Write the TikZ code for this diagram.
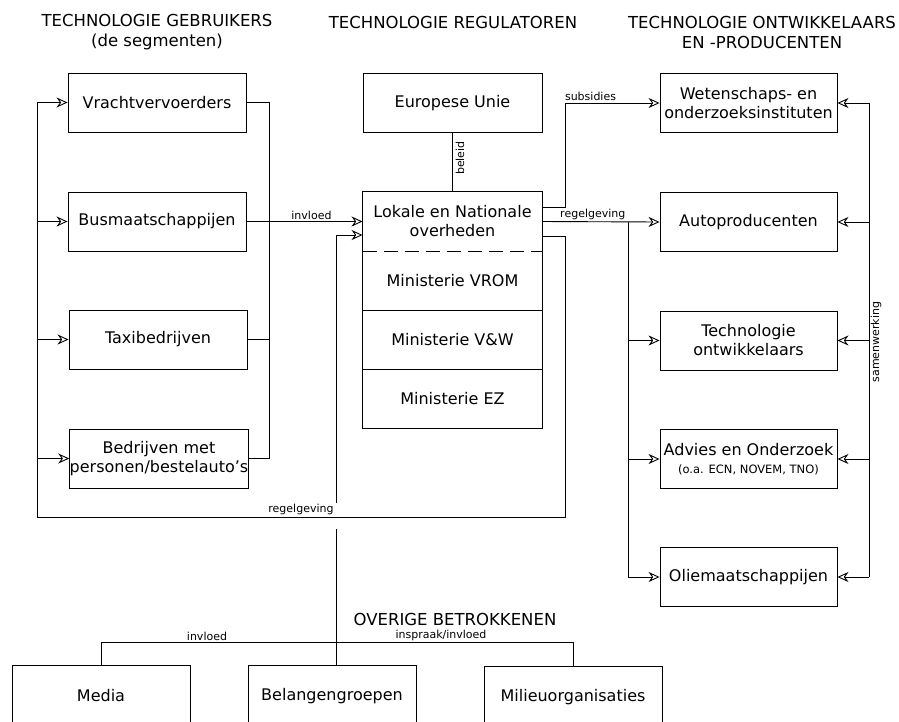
\documentclass[tikz,border=0pt]{standalone}
\usepackage{fontspec}
\setmainfont{DejaVu Sans}
\usetikzlibrary{arrows.meta}
\begin{document}
\begin{tikzpicture}[x=1pt,y=-1pt,
  box/.style={draw,line width=0.9pt,minimum width=178pt,minimum height=59pt,inner sep=0pt,align=center,font=\fontsize{16}{19}\selectfont},
  cell/.style={box,draw=none,minimum width=179pt},
  conn/.style={line width=0.9pt},
  arr/.style={conn,-{Stealth[open,length=11pt,width=10pt,inset=3.5pt,line width=0.9pt]}},
  lbl/.style={font=\fontsize{11}{12}\selectfont,inner sep=1.5pt},
  head/.style={font=\fontsize{16.5}{20}\selectfont,align=center,inner sep=0pt}]
\clip (0,0) rectangle (899,721);
% headers
\node[head] (h1) at (157,32) {TECHNOLOGIE GEBRUIKERS\\(de segmenten)};
\node[head] (h2) at (453,22) {TECHNOLOGIE REGULATOREN};
\node[head] (h3) at (762,32) {TECHNOLOGIE ONTWIKKELAARS\\EN -PRODUCENTEN};
\node[head] (h4) at (455,619) {OVERIGE BETROKKENEN};
% left column
\node[box] (vr) at (157,102.5) {Vrachtvervoerders};
\node[box] (bus) at (157,221.5) {Busmaatschappijen};
\node[box] (taxi) at (158,339.5) {Taxibedrijven};
\node[box] (bed) at (159,458.5) {Bedrijven met\\personen/bestelauto's};
% centre column
\node[box,minimum width=179pt] (eu) at (452.5,103) {Europese Unie};
\node[cell] (lok) at (452.5,221.5) {Lokale en Nationale\\overheden};
\node[cell] (vrom) at (452.5,280.5) {Ministerie VROM};
\node[cell] (vw) at (452.5,339.5) {Ministerie V\&W};
\node[cell] (ez) at (452.5,398.5) {Ministerie EZ};
\draw[conn] (lok.north west) rectangle (ez.south east);
\draw[conn] (vrom.south west) -- (vrom.south east);
\draw[conn] (vw.south west) -- (vw.south east);
\draw[conn,dash pattern=on 14pt off 7pt] (lok.south west) -- (lok.south east);
% right column
\node[box,minimum width=177pt] (wet) at (748.5,103) {Wetenschaps- en\\onderzoeksinstituten};
\node[box,minimum width=177pt] (auto) at (748.5,222) {Autoproducenten};
\node[box,minimum width=177pt] (tech) at (748.5,340.5) {Technologie\\ontwikkelaars};
\node[box,minimum width=177pt] (adv) at (748.5,459) {Advies en Onderzoek\\[-1pt]{\fontsize{11.5}{13}\selectfont (o.a. ECN, NOVEM, TNO)}};
\node[box,minimum width=177pt] (olie) at (748.5,577) {Oliemaatschappijen};
% bottom row
\node[box,minimum height=62pt] (media) at (101,696) {Media};
\node[box,minimum width=168pt,minimum height=62pt] (bel) at (332,696) {Belangengroepen};
\node[box,minimum height=62pt] (mil) at (573,697) {Milieuorganisaties};
% coordinates
\coordinate (lb) at (37,517);
\coordinate (rbl) at (269,458.5);
\coordinate (rr) at (565,517);
\coordinate (sub) at (565,103);
\coordinate (rv) at (628,221.5);
\coordinate (sw) at (869,103);
\coordinate (xb) at (336,529);
\coordinate (xt) at (336,503);
\coordinate (hm) at (336,642);
% left user bus
\draw[conn] (vr.east) -| (rbl) -- (bed.east);
\draw[conn] (taxi.east) -- (taxi.east -| rbl);
\draw[arr] (bus.east) -- (lok.west) node[lbl,pos=0.56,above] {invloed};
% regelgeving loop
\draw[conn] ([yshift=-14.5pt]lok.east) -| (rr) -- (lb) node[lbl,pos=0.5,above] {regelgeving} -- (vr.west -| lb);
\draw[arr] (vr.west -| lb) -- (vr.west);
\draw[arr] (bus.west -| lb) -- (bus.west);
\draw[arr] (taxi.west -| lb) -- (taxi.west);
\draw[arr] (bed.west -| lb) -- (bed.west);
% beleid
\draw[conn] (eu.south) -- (lok.north);
\node[lbl,rotate=90] (bl) at (460,158) {beleid};
% subsidies
\draw[arr] ([yshift=14.5pt]lok.east) -| (sub) -- (wet.west) node[lbl,pos=0.27,above] {subsidies};
% regelgeving right
\draw[arr] (lok.east) -- (auto.west) node[lbl,pos=0.43,above] {regelgeving};
\draw[arr] (rv) |- (olie.west);
\draw[arr] (tech.west -| rv) -- (tech.west);
\draw[arr] (adv.west -| rv) -- (adv.west);
% samenwerking
\draw[conn] (sw) -- (olie.east -| sw);
\draw[arr] (sw) -- (wet.east);
\draw[arr] (auto.east -| sw) -- (auto.east);
\draw[arr] (tech.east -| sw) -- (tech.east);
\draw[arr] (adv.east -| sw) -- (adv.east);
\draw[arr] (olie.east -| sw) -- (olie.east);
\node[lbl,rotate=90] (sl) at (876,342) {samenwerking};
% overige betrokkenen
\draw[conn] (bel.north -| xb) -- (xb);
\draw[arr] (xt) |- ([yshift=-13.5pt]lok.west);
\draw[conn] (media.north) |- (hm) -| (mil.north);
\node[lbl,above] (l1) at (207,642) {invloed};
\node[lbl,above] (l2) at (441,642) {inspraak/invloed};
\end{tikzpicture}
\end{document}
